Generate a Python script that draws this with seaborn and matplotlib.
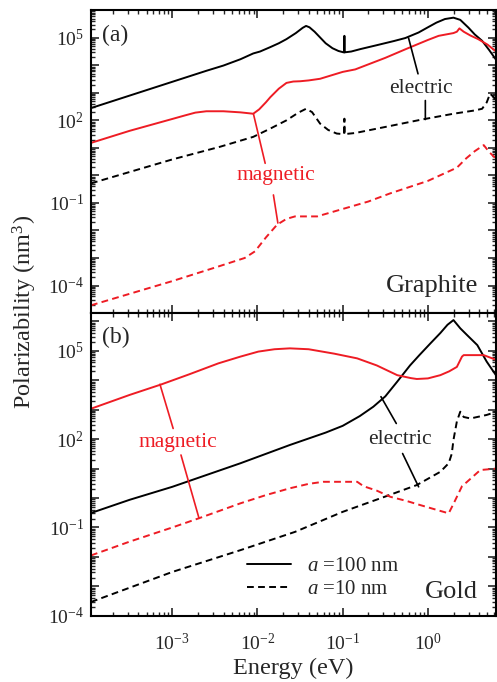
import numpy as np
import pandas as pd
import matplotlib
matplotlib.use("Agg")
import matplotlib.pyplot as plt
import matplotlib.ticker as mticker
from matplotlib.lines import Line2D
import seaborn as sns

# values: log10(E / eV) and log10(alpha / nm^3)
gr_el100_x = [-3.955, -3.5, -3.0, -2.6, -2.4, -2.2, -2.05, -1.97, -1.85, -1.75, -1.66, -1.55, -1.47, -1.43,
              -1.39, -1.33, -1.265, -1.2, -1.12, -1.05, -0.99, -0.982, -0.98, -0.978, -0.9, -0.79, -0.6,
              -0.4, -0.265, -0.11, 0.0, 0.1, 0.2, 0.3, 0.38, 0.475, 0.55, 0.636, 0.72, 0.80]
gr_el100_y = [2.445, 2.9, 3.4, 3.8, 3.99, 4.22, 4.43, 4.50, 4.66, 4.80, 4.95, 5.17, 5.36, 5.43,
              5.38, 5.22, 5.01, 4.80, 4.62, 4.52, 4.47, 4.47, 5.07, 4.47, 4.50, 4.59, 4.73,
              4.88, 4.99, 5.19, 5.38, 5.55, 5.68, 5.73, 5.65, 5.37, 5.12, 4.89, 4.55, 4.20]

gr_mag100_x = [-3.955, -3.5, -3.0, -2.85, -2.73, -2.6, -2.4, -2.2, -2.05, -1.98, -1.9, -1.85, -1.75, -1.66,
               -1.58, -1.5, -1.4, -1.265, -1.0, -0.853, -0.5, -0.265, 0.0, 0.126, 0.3, 0.34, 0.37, 0.42,
               0.5, 0.59, 0.7, 0.8]
gr_mag100_y = [1.18, 1.62, 2.05, 2.18, 2.28, 2.33, 2.33, 2.29, 2.24, 2.40, 2.66, 2.84, 3.15, 3.36,
               3.41, 3.42, 3.45, 3.51, 3.76, 3.85, 4.27, 4.58, 4.92, 5.07, 5.17, 5.22, 5.34, 5.22,
               5.08, 4.95, 4.75, 4.50]

gr_el10_x = [-3.955, -3.0, -2.44, -2.05, -1.85, -1.66, -1.52, -1.43, -1.36, -1.265, -1.17, -1.07, -0.99,
             -0.982, -0.98, -0.978, -0.853, -0.5, -0.07, 0.3, 0.55, 0.636, 0.69, 0.73, 0.77, 0.8]
gr_el10_y = [-0.29, 0.58, 1.04, 1.40, 1.70, 2.0, 2.28, 2.42, 2.30, 1.88, 1.65, 1.52, 1.50,
             1.50, 2.06, 1.50, 1.54, 1.76, 2.03, 2.24, 2.36, 2.42, 2.65, 2.97, 2.85, 2.70]

gr_mag10_x = [-3.955, -3.0, -2.5, -2.15, -2.03, -1.9, -1.77, -1.66, -1.56, -1.3, -1.0, -0.7, -0.44, 0.0,
              0.34, 0.45, 0.55, 0.655, 0.72, 0.8]
gr_mag10_y = [-4.72, -3.84, -3.35, -3.0, -2.76, -2.25, -1.79, -1.58, -1.49, -1.49, -1.22, -0.95, -0.65,
              -0.20, 0.28, 0.62, 0.88, 1.10, 0.85, 0.60]

au_el100_x = [-3.955, -3.5, -3.0, -2.5, -2.2, -1.62, -1.42, -1.2, -1.0, -0.8, -0.64, -0.5, -0.36, -0.21,
              -0.1, 0.03, 0.146, 0.23, 0.3, 0.38, 0.46, 0.58, 0.69, 0.81]
au_el100_y = [-0.51, -0.06, 0.38, 0.88, 1.18, 1.80, 2.0, 2.22, 2.45, 2.78, 3.1, 3.45, 3.95, 4.5,
              4.85, 5.25, 5.6, 5.88, 6.04, 5.76, 5.53, 5.19, 4.63, 4.12]

au_mag100_x = [-3.955, -3.5, -3.125, -2.8, -2.46, -2.2, -1.99, -1.8, -1.62, -1.4, -1.1, -0.83, -0.6, -0.36,
               -0.2, -0.13, 0.0, 0.146, 0.25, 0.34, 0.4, 0.42, 0.655, 0.81]
au_mag100_y = [3.03, 3.5, 3.86, 4.2, 4.57, 4.8, 4.97, 5.05, 5.08, 5.05, 4.90, 4.74, 4.5, 4.17,
               4.07, 4.04, 4.06, 4.17, 4.3, 4.45, 4.8, 4.85, 4.85, 4.68]

au_el10_x = [-3.955, -3.0, -2.2, -1.56, -1.0, -0.5, -0.13, 0.146, 0.244, 0.28, 0.3, 0.34, 0.38, 0.42,
             0.5, 0.69, 0.81]
au_el10_y = [-3.53, -2.51, -1.77, -1.15, -0.47, 0.05, 0.44, 0.89, 1.18, 1.5, 1.97, 2.6, 2.93, 2.75,
             2.70, 2.82, 2.93]

au_mag10_x = [-3.955, -3.5, -3.0, -2.69, -2.2, -1.9, -1.62, -1.4, -1.23, -0.9, -0.83, -0.755, -0.6, -0.44,
              -0.25, -0.09, 0.1, 0.244, 0.3, 0.34, 0.4, 0.46, 0.615, 0.81]
au_mag10_y = [-1.95, -1.48, -1.0, -0.69, -0.18, 0.1, 0.33, 0.48, 0.55, 0.55, 0.55, 0.40, 0.25, 0.04,
              -0.1, -0.24, -0.4, -0.52, -0.2, 0.04, 0.4, 0.55, 0.95, 1.0]

RED = "#ee1c24"


def to_frame(curves):
    rows = []
    for kind, size, xs, ys in curves:
        rows.append(pd.DataFrame({"energy": np.power(10.0, xs), "alpha": np.power(10.0, ys),
                                  "kind": kind, "size": size}))
    return pd.concat(rows, ignore_index=True)


graphite = to_frame([("electric", "100 nm", gr_el100_x, gr_el100_y),
                     ("magnetic", "100 nm", gr_mag100_x, gr_mag100_y),
                     ("electric", "10 nm", gr_el10_x, gr_el10_y),
                     ("magnetic", "10 nm", gr_mag10_x, gr_mag10_y)])
gold = to_frame([("electric", "100 nm", au_el100_x, au_el100_y),
                 ("magnetic", "100 nm", au_mag100_x, au_mag100_y),
                 ("electric", "10 nm", au_el10_x, au_el10_y),
                 ("magnetic", "10 nm", au_mag10_x, au_mag10_y)])

sns.set_style("ticks")
plt.rcParams["font.family"] = ["Liberation Serif", "DejaVu Serif"]
plt.rcParams["mathtext.fontset"] = "custom"
plt.rcParams["mathtext.rm"] = "Liberation Serif"
plt.rcParams["mathtext.it"] = "Liberation Serif:italic"
plt.rcParams["axes.unicode_minus"] = False

fig, (ax1, ax2) = plt.subplots(2, 1, figsize=(4.97, 6.82), dpi=100, sharex=True)
fig.subplots_adjust(left=0.183, right=0.998, top=0.985, bottom=0.097, hspace=0)

palette = {"electric": "black", "magnetic": RED}
dashes = {"100 nm": "", "10 nm": (3.5, 2.2)}

for ax, df in [(ax1, graphite), (ax2, gold)]:
    sns.lineplot(data=df, x="energy", y="alpha", hue="kind", style="size", palette=palette,
                 dashes=dashes, estimator=None, sort=False, lw=1.4, legend=False, ax=ax)
    ax.set_xscale("log")
    ax.set_yscale("log")
    ax.set_xlabel("")
    ax.set_ylabel("")


def label_fmt(keep):
    def f(v, pos):
        e = int(round(np.log10(v)))
        if keep is None or e in keep:
            return r"$\mathdefault{10^{%d}}$" % e
        return ""
    return f


ax1.set_xlim(1.11e-4, 6.3)
ax1.set_ylim(1e-5, 1e6)
ax2.set_ylim(1e-4, 1.9e6)

for ax in (ax1, ax2):
    ax.xaxis.set_major_locator(mticker.LogLocator(base=10, numticks=30))
    ax.xaxis.set_minor_locator(mticker.LogLocator(base=10, subs=np.arange(2, 10), numticks=30))
    ax.yaxis.set_major_locator(mticker.LogLocator(base=10, numticks=30))
    ax.yaxis.set_minor_locator(mticker.LogLocator(base=10, subs=np.arange(2, 10), numticks=30))
    ax.yaxis.set_major_formatter(mticker.FuncFormatter(label_fmt({-4, -1, 2, 5})))
    ax.xaxis.set_major_formatter(mticker.FuncFormatter(label_fmt(None)))
    ax.tick_params(which="both", direction="in", top=True, right=True, labelsize=14, pad=5)
    ax.tick_params(which="major", length=6, width=1.2)
    ax.tick_params(which="minor", length=3, width=1.0)
    for s in ax.spines.values():
        s.set_linewidth(1.5)
        s.set_color("black")
ax2.tick_params(axis="x", which="major", pad=12)

line_kw = dict(arrowstyle="-", lw=1.2, shrinkA=0, shrinkB=0)

# panel (a): graphite
ax1.text(0.027, 0.917, "(a)", transform=ax1.transAxes, fontsize=17, va="center")
ax1.text(0.956, 0.07, "Graphite", transform=ax1.transAxes, fontsize=19, ha="right", va="baseline")
ax1.text(10**-0.077, 10**3.16, "electric", fontsize=15.5, ha="center", va="center")
ax1.annotate("", xy=(10**-0.227, 10**4.99), xytext=(10**-0.116, 10**3.69),
             arrowprops=dict(color="black", **line_kw))
ax1.annotate("", xy=(10**-0.03, 10**2.03), xytext=(10**-0.03, 10**2.72),
             arrowprops=dict(color="black", **line_kw))
ax1.text(10**-1.78, 10**-0.02, "magnetic", fontsize=15.5, ha="center", va="center", color=RED)
ax1.annotate("", xy=(10**-2.048, 10**2.24), xytext=(10**-1.91, 10**0.44),
             arrowprops=dict(color=RED, **line_kw))
ax1.annotate("", xy=(10**-1.761, 10**-1.73), xytext=(10**-1.813, 10**-0.71),
             arrowprops=dict(color=RED, **line_kw))

# panel (b): gold
ax2.text(0.027, 0.92, "(b)", transform=ax2.transAxes, fontsize=17, va="center")
ax2.text(0.956, 0.06, "Gold", transform=ax2.transAxes, fontsize=19, ha="right", va="baseline")
ax2.text(10**-0.324, 10**1.97, "electric", fontsize=15.5, ha="center", va="center")
ax2.annotate("", xy=(10**-0.551, 10**3.44), xytext=(10**-0.371, 10**2.53),
             arrowprops=dict(color="black", **line_kw))
ax2.annotate("", xy=(10**-0.109, 10**0.38), xytext=(10**-0.297, 10**1.51),
             arrowprops=dict(color="black", **line_kw))
ax2.text(10**-2.93, 10**1.90, "magnetic", fontsize=15.5, ha="center", va="center", color=RED)
ax2.annotate("", xy=(10**-3.145, 10**3.86), xytext=(10**-2.99, 10**2.36),
             arrowprops=dict(color=RED, **line_kw))
ax2.annotate("", xy=(10**-2.686, 10**-0.69), xytext=(10**-2.898, 10**1.46),
             arrowprops=dict(color=RED, **line_kw))

handles = [Line2D([], [], color="black", lw=1.4),
           Line2D([], [], color="black", lw=1.4, dashes=(3.5, 2.2))]
ax2.legend(handles, ["$a$ =100 nm", "$a$ =10 nm"], loc="upper left", bbox_to_anchor=(0.385, 0.195),
           frameon=False, fontsize=15, handlelength=2.1, handletextpad=0.8, labelspacing=0.15,
           borderaxespad=0, borderpad=0)

ax2.set_xlabel("Energy (eV)", fontsize=17.5, labelpad=3)
fig.text(0.05, 0.542, "Polarizability (nm$^3$)", rotation=90, fontsize=17.5, ha="center", va="center")

fig.savefig("out.png", dpi=100)
